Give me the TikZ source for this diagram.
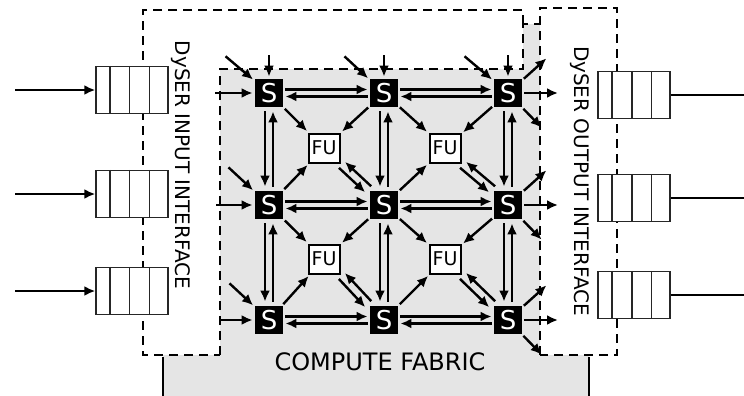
\documentclass[tikz,border=0pt]{standalone}
\usepackage{fontspec}
\setmainfont{DejaVu Sans}
\usetikzlibrary{arrows.meta,positioning,calc}

\begin{document}
\begin{tikzpicture}[x=0.5pt,y=-0.5pt,
 sw/.style={fill=black, text=white, minimum size=14pt, inner sep=0pt, font=\fontsize{13}{13}\selectfont},
 fu/.style={draw, line width=1pt, fill=white, minimum width=15.5pt, minimum height=14.5pt, inner sep=0pt, font=\fontsize{9.5}{10}\selectfont},
 que/.style={draw=black!85, line width=0.7pt, fill=white, minimum width=36pt, minimum height=23.5pt, inner sep=0pt},
 lnk/.style={-{Latex[length=5.5pt,width=5pt]}, line width=1.2pt, shorten >=1pt, shorten <=1pt},
 brd/.style={dash pattern=on 4.5pt off 3pt, line width=1.2pt},
 lbl/.style={font=\fontsize{10}{12}\selectfont, rotate=-90}]

 \useasboundingbox (0,0) rectangle (744,396);

 % --- fabric area and interface borders ---
 \fill[gray!20] (220,69) -- (523,69) -- (523,24) -- (540,24) -- (540,355) -- (589,355) -- (589,396)
   -- (163,396) -- (163,355) -- (220,355) -- cycle;
 \draw[brd] (220,355) -- (220,69) -- (523,69) -- (523,24) -- (540,24);
 \draw[brd] (523,24) -- (523,10) -- (143,10) -- (143,355) -- (220,355);
 \draw[brd] (540,355) -- (540,8) -- (617,8) -- (617,355) -- cycle;
 \draw[line width=1.2pt] (163,357) -- (163,396);
 \draw[line width=1.2pt] (589,357) -- (589,396);

 \node[lbl] (inlbl) at (181,165) {DySER INPUT INTERFACE};
 \node[lbl] (outlbl) at (580,181) {DySER OUTPUT INTERFACE};
 \node[font=\fontsize{12}{14}\selectfont] (fabric) at (380,362) {COMPUTE FABRIC};

 % --- switches and functional units ---
 \foreach \x/\i in {269/0,384/1,508/2}
  \foreach \y/\j in {93/0,205/1,320/2}
   \node[sw] (s\i\j) at (\x,\y) {S};
 \foreach \x/\i in {324/0,445/1}
  \foreach \y/\j in {148/0,259/1}
   \node[fu] (f\i\j) at (\x,\y) {FU};

 % switch to switch
 \foreach \i/\k in {0/1,1/2}
  \foreach \j in {0,1,2} {
   \draw[lnk] ([yshift=1.75pt]s\i\j.east) -- ([yshift=1.75pt]s\k\j.west);
   \draw[lnk] ([yshift=-1.75pt]s\k\j.west) -- ([yshift=-1.75pt]s\i\j.east);
   \draw[lnk, shorten >=2pt, shorten <=2pt] ([xshift=-2pt]s\j\i.south) -- ([xshift=-2pt]s\j\k.north);
   \draw[lnk, shorten >=2pt, shorten <=2pt] ([xshift=2pt]s\j\k.north) -- ([xshift=2pt]s\j\i.south);
  }

 % switch to FU
 \foreach \i/\k in {0/1,1/2}
  \foreach \j/\l in {0/1,1/2} {
   \draw[lnk] (s\i\j) -- (f\i\j);
   \draw[lnk] (s\k\j) -- (f\i\j);
   \draw[lnk] (s\i\l) -- (f\i\j);
   \draw[lnk] ([shift={(-1.5pt,-1.5pt)}]f\i\j.south east) -- ([shift={(-1.5pt,-1.5pt)}]s\k\l.north west);
   \draw[lnk] ([shift={(1.5pt,1.5pt)}]s\k\l.north west) -- ([shift={(1.5pt,1.5pt)}]f\i\j.south east);
  }

 % --- fabric inputs ---
 \coordinate (inL0) at (213,93);
 \coordinate (inL1) at (214,205);
 \coordinate (inL2) at (217,320);
 \coordinate (inD1) at (227,166);
 \coordinate (inD2) at (228,282);
 \coordinate (inT0) at (269,53);
 \coordinate (inT1) at (384,53);
 \coordinate (inT2) at (508,53);
 \coordinate (inE0) at (224,55);
 \coordinate (inE1) at (343,55);
 \coordinate (inE2) at (463,55);
 \foreach \j in {0,1,2} {
  \draw[lnk] (inL\j) -- (s0\j);
  \draw[lnk] (inT\j) -- (s\j0);
  \draw[lnk] (inE\j) -- (s\j0);
 }
 \draw[lnk] (inD1) -- (s01);
 \draw[lnk] (inD2) -- (s02);

 % --- fabric outputs ---
 \foreach \y/\j in {93/0,205/1,320/2} {
  \coordinate (oU\j) at (548,\y-36);
  \coordinate (oR\j) at (560,\y);
  \coordinate (oD\j) at (543,\y+36);
  \draw[lnk] (s2\j) -- (oU\j);
  \draw[lnk] (s2\j) -- (oR\j);
  \draw[lnk] (s2\j) -- (oD\j);
 }

 % --- queues ---
 \node[que] (qi1) at (132,90) {};
 \node[que] (qi2) at (132,194) {};
 \node[que] (qi3) at (132,291) {};
 \node[que] (qo1) at (634,95) {};
 \node[que] (qo2) at (634,198) {};
 \node[que] (qo3) at (634,295) {};
 \foreach \q in {qi1,qi2,qi3,qo1,qo2,qo3}
  \foreach \f in {0.2,0.47,0.74}
   \draw[black!85, line width=0.7pt] ($(\q.north west)!\f!(\q.north east)$) -- ($(\q.south west)!\f!(\q.south east)$);

 \coordinate (src1) at (13,90);
 \coordinate (src2) at (13,194);
 \coordinate (src3) at (13,291);
 \coordinate (snk1) at (744,95);
 \coordinate (snk2) at (744,198);
 \coordinate (snk3) at (744,295);
 \foreach \n in {1,2,3} {
  \draw[lnk, shorten >=0pt] (src\n) -- (qi\n);
  \draw[line width=1.2pt] (qo\n) -- (snk\n);
 }
\end{tikzpicture}
\end{document}
